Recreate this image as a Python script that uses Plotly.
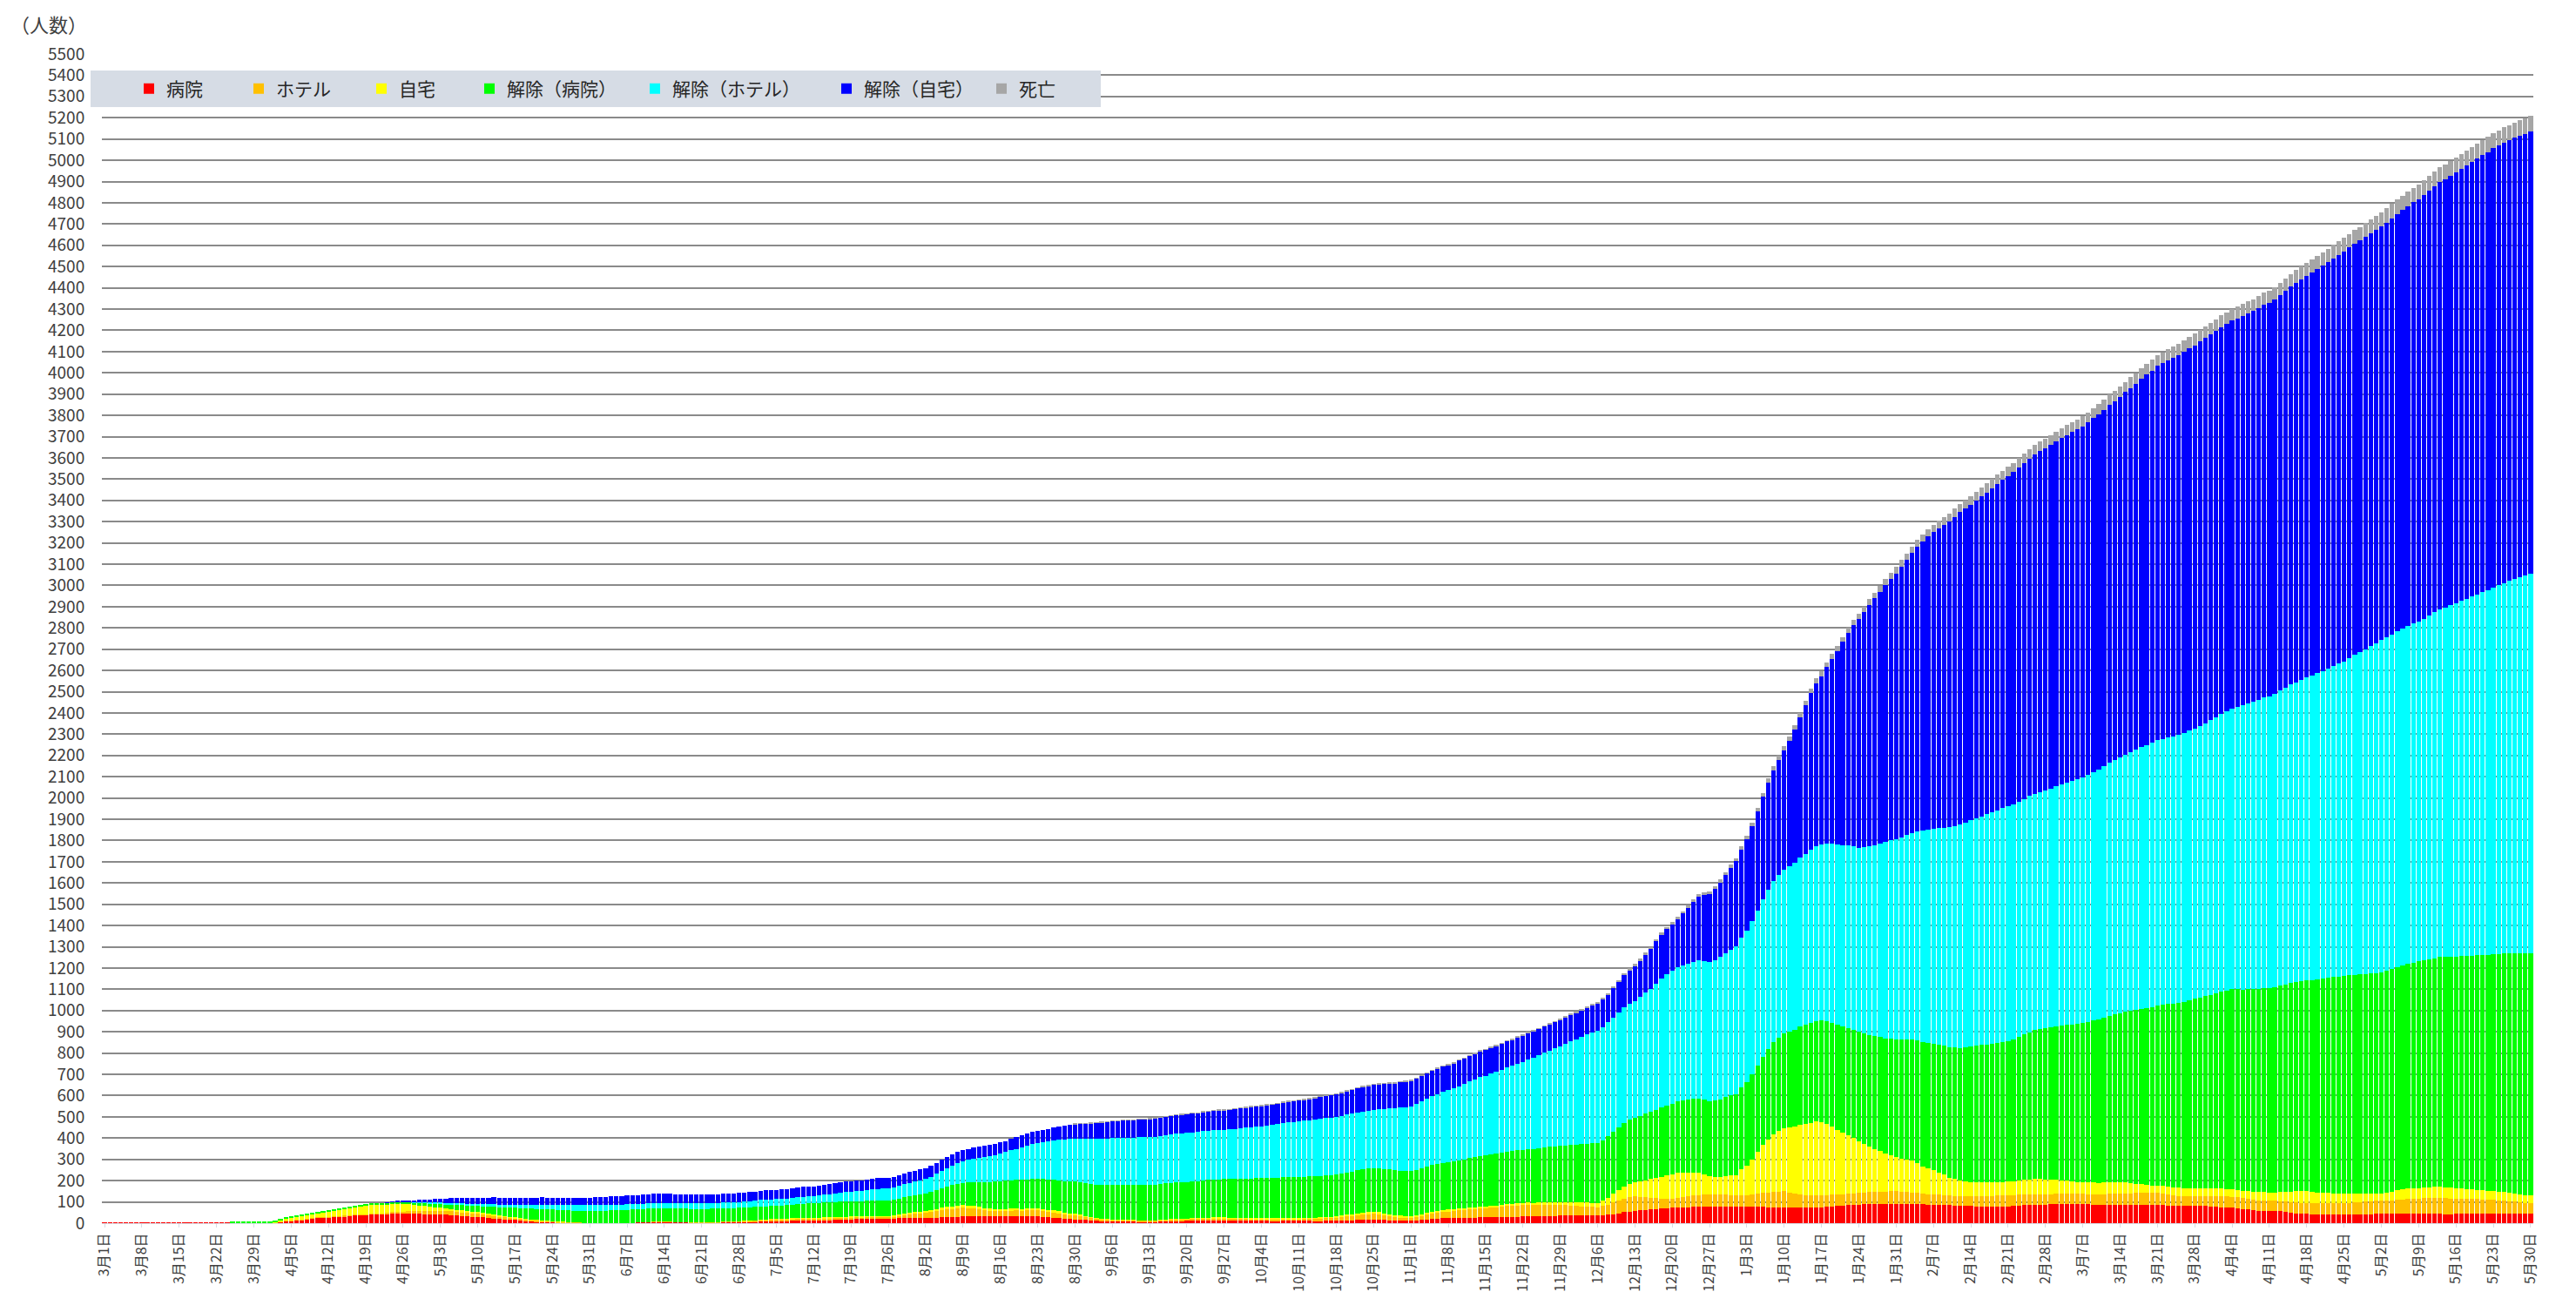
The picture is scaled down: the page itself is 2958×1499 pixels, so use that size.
import plotly.graph_objects as go

# ---- tick labels (every 7 days, 2020-03-01 .. 2021-05-30) ----
tick_labels = ["3月1日","3月8日","3月15日","3月22日","3月29日","4月5日","4月12日","4月19日","4月26日",
               "5月3日","5月10日","5月17日","5月24日","5月31日","6月7日","6月14日","6月21日","6月28日",
               "7月5日","7月12日","7月19日","7月26日","8月2日","8月9日","8月16日","8月23日","8月30日",
               "9月6日","9月13日","9月20日","9月27日","10月4日","10月11日","10月18日","10月25日",
               "11月1日","11月8日","11月15日","11月22日","11月29日","12月6日","12月13日","12月20日","12月27日",
               "1月3日","1月10日","1月17日","1月24日","1月31日","2月7日","2月14日","2月21日","2月28日",
               "3月7日","3月14日","3月21日","3月28日","4月4日","4月11日","4月18日","4月25日",
               "5月2日","5月9日","5月16日","5月23日","5月30日"]

series_names = ["病院", "ホテル", "自宅", "解除（病院）", "解除（ホテル）", "解除（自宅）", "死亡"]

# ---- daily values (one row = one week) ----
hospital = [
 1,1,1,1,1,1,1, 1,1,1,1,1,1,1, 1,1,1,1,1,2,2, 2,2,2,2,2,2,2,
 2,2,3,3,4,7,10, 11,14,16,19,22,25,26, 28,30,31,32,34,37,39, 40,42,43,42,44,47,48,
 48,47,45,44,43,42,41, 40,39,38,36,34,32,30, 29,27,25,22,20,18,16, 15,13,11,10,8,7,6,
 5,4,3,3,2,2,1, 1,1,0,0,0,1,1, 1,2,3,4,5,6,6, 6,6,5,5,5,4,4,
 4,4,4,4,5,5,5, 5,6,7,8,9,9,10, 10,10,10,11,11,11,11, 11,12,13,14,15,16,17,
 18,19,19,20,21,21,22, 22,22,23,23,23,24,24, 24,25,26,27,28,29,30, 31,31,32,32,31,31,31,
 31,31,32,32,31,31,31, 31,30,28,26,24,21,19, 18,17,15,14,13,12,12, 11,10,10,9,9,8,8,
 8,8,9,9,10,10,11, 11,12,12,13,13,14,14, 14,13,13,12,12,11,11, 11,11,10,10,11,11,11,
 11,11,11,10,10,11,11, 11,12,13,14,15,16,17, 18,17,15,14,13,12,11, 11,13,15,17,19,21,23,
 24,24,25,25,26,26,27, 27,28,28,29,29,30,30, 31,32,32,33,33,34,34, 35,35,36,36,36,37,37,
 37,38,40,43,47,52,55, 58,60,62,64,67,69,71, 72,73,74,75,76,77,78, 78,78,79,79,78,78,78,
 78,77,77,76,75,75,74, 74,73,72,72,73,74,74, 75,77,79,81,83,85,87, 88,89,90,90,91,90,90,
 90,91,92,91,90,89,88, 88,87,86,84,83,82,81, 80,79,78,77,77,77,77, 78,80,82,84,86,87,88,
 88,89,90,91,91,90,90, 90,89,88,87,88,88,88, 88,88,87,86,85,85,84, 84,84,83,82,82,81,82,
 82,81,80,78,76,75,73, 72,70,67,64,61,59,58, 57,57,56,53,50,47,45, 44,42,41,40,39,39,40,
 40,41,42,42,43,43,44, 44,44,45,46,46,47,47, 47,47,46,45,44,43,43, 44,44,45,46,46,47,47,
 47,47,47,47,47,47,47, 47]

hotel = [0] * 28 + [
 0,0,0,0,0,0,1, 1,1,1,1,2,2,2, 2,2,2,3,3,3,3, 3,3,4,5,5,6,6,
 7,9,11,12,14,15,16, 17,17,18,18,18,18,18, 18,17,15,14,12,11,10, 9,8,7,6,5,5,4,
 4,3,3,2,1,1,0, 0,0,0,0,0,0,0, 0,0,0,0,1,1,1, 1,1,1,1,1,1,1,
 1,1,2,2,3,3,4, 4,4,5,5,6,6,7, 7,8,8,9,10,10,11, 11,11,11,10,10,10,10,
 10,10,9,9,9,8,8, 8,10,13,16,19,22,24, 26,28,31,34,36,38,40, 41,40,37,34,31,29,28,
 27,28,29,30,30,31,31, 31,30,28,27,25,23,21, 20,17,14,11,9,7,6, 5,5,5,5,5,5,5,
 5,5,6,7,7,8,8, 9,9,9,10,10,10,10, 10,10,10,9,9,9,9, 9,9,9,9,9,9,9,
 9,10,11,12,14,15,16, 17,19,21,22,24,25,26, 27,26,24,21,18,16,15, 14,16,19,22,25,27,29,
 30,32,35,38,40,42,44, 45,46,48,49,51,52,53, 54,54,53,52,52,51,51, 50,49,47,45,43,41,39,
 38,42,48,55,60,64,66, 67,64,60,55,50,46,44, 43,46,49,52,55,56,57, 57,56,55,55,54,54,54,
 54,58,62,66,70,73,75, 76,72,68,64,60,57,56, 55,55,55,54,54,54,54, 54,55,56,57,58,59,60,
 60,58,56,54,52,49,48, 47,47,47,46,46,46,46, 46,47,48,50,51,53,54, 54,53,52,51,50,49,48,
 48,48,48,48,48,48,48, 48,48,49,49,49,50,50, 50,52,54,56,58,59,58, 58,55,52,49,47,46,46,
 46,47,48,50,51,52,52, 52,51,50,49,48,48,48, 48,48,48,49,49,50,50, 50,51,52,53,55,56,55,
 53,55,57,58,59,60,61, 61,62,63,64,66,67,68, 69,70,72,74,75,74,72, 71,70,69,68,67,65,64,
 63,61,59,57,54,51,48, 46]

home = [0] * 28 + [
 0,0,0,0,2,6,10, 15,17,18,20,21,22,24, 25,27,30,32,35,37,39, 40,41,42,42,41,40,38,
 37,34,30,26,23,20,17, 15,13,11,9,8,6,5, 5,5,5,5,4,4,4, 4,3,3,2,2,2,1,
 1,1,1,1,0,0,0] + [0] * 28 + [
 1,1,1,1,2,2,2, 2,2,2,3,3,3,3, 3,3,3,3,3,3,3, 3,3,3,3,3,3,3,
 3,3,4,5,6,7,7, 8,9,10,11,12,12,13, 13,12,11,10,9,8,7, 7,7,7,6,6,6,6,
 6,6,7,7,7,7,7, 7,6,5,4,3,3,2, 2,2,2,1,1,1,1, 1,1,1,2,2,2,2,
 2,2,2,3,3,3,3, 3,3,3,4,4,4,4, 4,4,4,4,4,4,4, 4,4,3,3,3,3,3,
 3,4,5,6,7,8,9, 9,9,8,8,7,7,6, 6,7,8,9,10,10,11, 11,10,9,8,7,7,6,
 6,7,7,8,9,9,10, 10,11,11,12,13,13,14, 14,15,16,17,18,19,20, 20,25,32,40,50,58,64,
 67,72,80,88,96,104,110, 115,118,116,112,108,105,95, 85,82,84,88,92,95,120,
 140,165,195,225,250,270,285, 297,305,315,328,335,342,348, 345,335,320,305,290,275,260,
 245,230,215,203,190,178,168, 160,155,150,148,140,130,122, 115,105,95,85,78,72,68,
 67,67,67,66,65,64,63, 63,64,66,68,70,72,72, 70,68,66,63,60,57,55, 54,54,54,54,54,54,54,
 54,52,48,44,40,37,36, 36,36,37,37,37,37,37, 37,37,36,36,36,36,36, 36,36,36,37,38,40,41,
 37,38,42,46,50,53,55, 56,54,52,50,48,46,45, 45,43,41,39,37,36,35, 35,38,41,44,46,48,49,
 49,50,51,52,53,52,51, 50,48,46,44,43,42,41, 40,40,40,39,39,39,38, 38]

released_hospital = [0] * 21 + [
 0,0,0,3,3,4,4, 4,4,4,4,4,4,4, 4,4,4,4,5,5,5, 5,5,5,5,5,5,5,
 5,5,6,6,7,7,8, 8,9,11,13,15,16,18, 19,20,22,23,25,26,27, 28,30,33,36,38,41,43,
 44,46,48,50,51,52,53, 54,54,55,55,56,56,57, 57,58,58,59,60,61,61,
 62,62,62,62,62,62,62, 62,62,62,62,62,62,62, 62,62,62,62,62,62,62, 62,62,62,62,62,62,62,
 62,63,64,65,66,67,68, 69,70,70,71,71,72,72, 72,72,73,73,73,74,74, 74,75,76,77,78,79,80,
 82,85,88,92,96,100,103, 105,110,114,118,122,126,129, 132,133,134,135,136,138,139,
 140,141,142,144,146,147,149, 150,152,153,155,157,159,160, 162,163,164,165,166,167,167,
 168,168,169,170,170,171,171, 172,173,174,176,177,178,179, 180,181,182,184,185,186,187,
 188,189,190,191,192,193,193, 194,194,195,196,196,197,197, 198,199,200,201,202,203,204,
 205,206,207,209,210,212,213, 214,215,216,217,219,220,221, 222,224,227,230,233,236,238,
 240,241,243,244,246,247,249, 250,252,254,256,259,261,263, 265,267,269,272,275,277,280,
 282,285,288,291,294,298,301, 304,308,312,316,320,324,328, 331,335,339,342,346,349,352,
 355,360,365,370,376,381,386, 392,400,408,416,424,432,440, 446,450,455,460,465,470,474,
 478,483,488,493,498,503,508, 512,518,524,531,537,543,550, 556,562,567,573,579,584,590,
 595,601,607,613,619,625,631, 637,641,645,648,652,655,659, 662,669,676,684,692,700,706,
 712,718,723,729,735,740,745, 750,757,763,770,776,783,789, 795,802,809,816,824,831,838,
 845,851,858,864,871,877,884, 890,897,904,911,918,926,933, 940,943,946,950,953,956,959,
 962,966,970,975,980,984,988, 992,997,1001,1006,1011,1016,1020, 1025,1027,1029,1031,1033,1035,1036,
 1038,1042,1046,1050,1054,1058,1062, 1066,1069,1073,1076,1080,1083,1087, 1090,1094,1097,1101,1104,1108,1111,
 1115,1118,1122,1125,1129,1132,1135, 1138]

released_hotel = [0] * 56 + [
 0,0,1,2,3,4,5, 6,6,7,8,9,10,10, 11,11,12,13,13,14,14, 15,16,17,18,19,20,20,
 21,22,23,24,25,25,26, 26,26,26,26,26,26,26, 26,26,26,26,26,26,26, 26,26,26,26,26,26,26,
 26,26,26,26,27,27,27, 27,28,28,29,30,31,31, 32,32,32,32,33,33,33, 33,35,37,39,41,43,44,
 45,47,49,51,53,55,56, 57,58,60,62,64,65,67, 68,72,77,82,88,93,98, 102,106,110,114,118,122,126,
 129,135,141,147,154,160,165, 169,174,179,184,190,196,200, 203,206,209,212,214,216,218,
 220,221,221,222,222,223,223, 224,225,226,227,228,229,230, 230,230,231,231,231,232,232,
 232,234,236,238,240,242,243, 244,247,249,252,255,258,260, 262,263,264,266,267,268,269,
 270,271,271,272,273,274,274, 275,279,283,287,292,297,301, 305,310,315,320,325,330,334,
 338,343,349,354,360,365,371, 376,381,386,391,397,402,407, 412,420,428,436,444,452,460,
 468,477,486,495,504,513,522, 530,533,536,539,542,545,547, 550,560,570,580,595,608,618,
 626,630,634,638,643,648,651, 655,662,670,678,687,696,704, 712,720,730,740,750,758,765,
 770,778,787,796,805,815,823, 830,836,842,848,854,860,864, 868,878,888,898,910,922,932,
 940,950,960,970,982,994,1003, 1010,1018,1026,1034,1042,1050,1058, 1065,1070,1076,1082,1088,1094,1099,
 1103,1105,1107,1109,1111,1113,1114, 1116,1121,1127,1133,1139,1145,1149, 1153,1160,1168,1175,1183,1191,1198,
 1205,1211,1218,1225,1232,1238,1244, 1250,1253,1256,1259,1262,1265,1268, 1270,1277,1284,1292,1299,1306,1313,
 1320,1328,1336,1344,1352,1360,1368, 1375,1382,1389,1396,1404,1411,1418, 1425,1433,1441,1449,1457,1465,1473,
 1480,1492,1504,1516,1528,1540,1552, 1565,1569,1574,1579,1584,1589,1594, 1598,1607,1616,1626,1635,1644,1653,
 1662,1671,1680,1689,1698,1707,1716, 1726,1735,1744,1753,1762,1771,1778, 1785]

released_home = [0] * 49 + [
 0,0,0,0,1,2,4, 6,8,10,12,13,15,16, 17,19,21,23,25,27,28, 29,30,30,31,31,32,32,
 33,33,34,34,34,35,35, 35,35,35,35,36,36,36, 36,37,38,39,40,41,41, 42,42,42,42,43,43,43,
 43,43,43,43,43,43,43, 43,43,43,43,43,43,43, 43,43,43,43,44,44,44, 44,44,45,45,46,46,47,
 47,47,48,48,48,49,49, 49,49,49,50,50,50,50, 50,50,50,50,50,50,50, 50,50,50,51,51,51,51,
 51,51,52,52,52,53,53, 53,53,54,54,55,55,56, 56,57,59,61,63,65,67, 68,70,72,74,76,78,79,
 80,81,82,82,83,84,84, 85,86,87,87,88,89,89, 90,90,91,91,92,92,93, 93,93,94,94,94,95,95,
 95,95,96,96,97,97,97, 98,99,101,102,104,105,107, 108,109,111,112,114,115,117,
 118,118,119,119,119,120,120, 120,120,120,120,120,120,120, 120,120,121,121,121,122,122,
 122,122,123,123,124,124,125, 125,125,125,125,125,125,125, 125,125,126,126,127,127,128,
 128,130,133,138,145,152,158, 165,172,180,188,197,206,212, 218,228,245,265,285,300,312,
 320,335,350,368,385,400,415, 430,448,466,485,505,522,540, 560,590,625,660,700,735,765,
 790,830,870,910,955,1000,1040, 1075,1105,1135,1160,1185,1210,1230, 1250,1272,1294,1316,1338,1360,1380,
 1395,1410,1425,1440,1455,1470,1478, 1485,1495,1505,1515,1525,1535,1545, 1555,1563,1571,1579,1587,1595,1603,
 1610,1616,1622,1628,1635,1642,1648, 1653,1659,1665,1671,1677,1683,1689, 1695,1704,1713,1722,1732,1741,1751,
 1760,1766,1773,1779,1786,1792,1799, 1805,1808,1811,1814,1817,1820,1822, 1825,1828,1831,1835,1838,1842,1845,
 1848,1854,1860,1866,1872,1878,1884, 1890,1895,1901,1906,1912,1917,1923, 1928,1931,1933,1936,1938,1941,1943,
 1946,1952,1958,1964,1970,1976,1982, 1988,1993,1998,2004,2009,2014,2020, 2025,2031,2037,2043,2049,2054,2060,
 2065,2067,2070,2072,2074,2076,2078, 2080]

deaths = [0] * 182 + [
 1,1,1,1,1,1,1, 1,1,1,1,1,1,1, 1,1,1,1,1,1,1, 1,1,1,1,2,2,2,
 2,2,2,2,2,2,2, 2,2,2,2,2,2,2, 2,2,2,2,2,2,2, 2,2,2,2,2,2,2,
 2,2,2,2,2,2,2, 2,2,2,2,2,2,2, 2,2,2,2,3,3,3, 3,3,3,3,3,3,3,
 3,3,3,3,3,3,3, 3,3,3,4,4,4,4, 4,4,5,5,6,7,7, 8,8,8,9,9,9,10,
 10,10,10,11,11,11,12, 12,12,13,13,14,14,15, 15,16,17,17,18,19,19, 20,20,20,21,21,21,22,
 22,22,23,23,24,24,25, 25,26,27,27,28,29,29, 30,31,31,32,33,34,34, 35,36,36,37,38,39,39,
 40,40,41,41,42,42,43, 43,43,44,44,45,45,46, 46,46,46,46,47,47,47, 47,47,48,48,48,49,49,
 49,49,50,50,50,51,51, 51,52,52,53,53,53,54, 54,54,55,55,55,56,56, 56,56,57,57,57,58,58,
 58,58,59,59,59,60,60, 60,61,61,62,62,63,63, 64,64,65,65,66,66,67, 67,67,68,68,68,69,69,
 69,69,69,70,70,70,70, 70,71,71,71,71,72,72, 72,72,73,73,73,74,74, 74]

series_values = [hospital, hotel, home, released_hospital, released_hotel, released_home, deaths]
series_colors = ["#ff0000", "#ffc000", "#ffff00", "#00ff00", "#00ffff", "#0000ff", "#a6a6a6"]

n_days = len(hospital)
for name, vals in zip(series_names, series_values):
    assert len(vals) == n_days, (name, len(vals), n_days)

days = list(range(n_days))
tick_positions = days[::7]

FONT = "Noto Sans CJK JP"

# ---- geometry: the page body has an 8px margin, so the figure is made 16px smaller ----
PAGE_MARGIN = 8
W, H = 2958 - 2 * PAGE_MARGIN, 1499 - 2 * PAGE_MARGIN
PLOT_LEFT, PLOT_RIGHT, PLOT_TOP, PLOT_BOTTOM = 117, 2909, 62, 1405   # page pixels
L = PLOT_LEFT - PAGE_MARGIN
T = PLOT_TOP - PAGE_MARGIN
R = W - (PLOT_RIGHT - PAGE_MARGIN)
B = H - (PLOT_BOTTOM - PAGE_MARGIN)
PW, PH = PLOT_RIGHT - PLOT_LEFT, PLOT_BOTTOM - PLOT_TOP

def px_x(px):   # page px -> paper fraction
    return (px - PLOT_LEFT) / PW

def px_y(py):
    return (PLOT_BOTTOM - py) / PH

# legend entry marker centres (page px) and legend box (page px)
legend_marker_px = [171, 297, 438, 562, 752, 972, 1150]
SYMBOL_OFFSET = 20
box_px = (104, 81, 1264, 123)

fig = go.Figure()
layout_legends = {}
for i, (name, vals, col) in enumerate(zip(series_names, series_values, series_colors)):
    key = "legend" if i == 0 else f"legend{i + 1}"
    fig.add_trace(go.Bar(x=days, y=vals, name=name, marker=dict(color=col, line=dict(width=0)),
                         legend=key))
    layout_legends[key] = dict(
        orientation="h", x=px_x(legend_marker_px[i] - SYMBOL_OFFSET), xanchor="left",
        y=px_y((box_px[1] + box_px[3]) / 2), yanchor="middle",
        bgcolor="rgba(0,0,0,0)", borderwidth=0,
        font=dict(size=21, family=FONT, color="#262626"))

fig.update_layout(
    width=W, height=H,
    barmode="stack", bargap=0.14,
    plot_bgcolor="white", paper_bgcolor="white",
    margin=dict(l=L, r=R, t=T, b=B, autoexpand=False),
    font=dict(family=FONT, color="#404040"),
    showlegend=True,
    xaxis=dict(range=[-0.5, n_days - 0.5], tickmode="array", tickvals=tick_positions,
               ticktext=tick_labels, tickangle=-90, tickfont=dict(size=16, family=FONT, color="#404040"),
               showgrid=False, zeroline=False, showline=True, linecolor="#d6dce5", linewidth=1,
               ticks="outside", ticklen=4, tickcolor="#d6dce5", automargin=False),
    yaxis=dict(range=[0, 5500], dtick=100, tick0=0, showgrid=True, gridcolor="#8a8a8a", gridwidth=2,
               zeroline=False, tickfont=dict(size=19, family=FONT, color="#404040"),
               ticks="outside", ticklen=15, tickcolor="rgba(0,0,0,0)", automargin=False),
    shapes=[dict(type="rect", xref="paper", yref="paper",
                 x0=px_x(box_px[0]), x1=px_x(box_px[2]), y0=px_y(box_px[3]), y1=px_y(box_px[1]),
                 fillcolor="#d6dce5", line=dict(width=0), layer="above")],
    annotations=[dict(text="（人数）", xref="paper", yref="paper", x=px_x(10), y=px_y(27),
                      xanchor="left", yanchor="middle", showarrow=False,
                      font=dict(size=22, family=FONT, color="#404040"))],
    **layout_legends,
)

fig.write_html("out.html")
